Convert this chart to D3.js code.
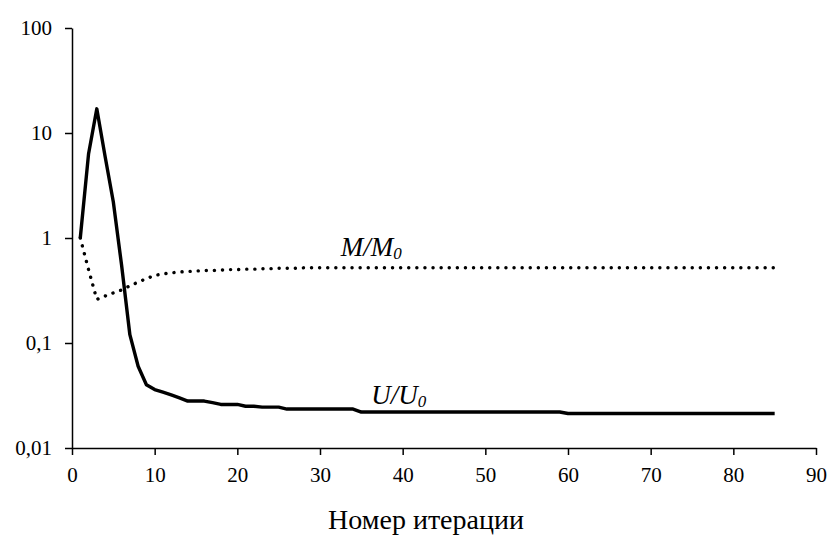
<!DOCTYPE html>
<html>
<head>
<meta charset="utf-8">
<script src="https://cdn.jsdelivr.net/npm/d3@7"></script>
</head>
<body style="margin:0">
<script>
// iteration numbers
var iterations = [1,2,3,4,5,6,7,8,9,10,11,12,13,14,15,16,17,18,19,20,
  21,22,23,24,25,26,27,28,29,30,31,32,33,34,35,36,37,38,39,40,
  41,42,43,44,45,46,47,48,49,50,51,52,53,54,55,56,57,58,59,60,
  61,62,63,64,65,66,67,68,69,70,71,72,73,74,75,76,77,78,79,80,
  81,82,83,84,85];

// U/U0 (solid)
var uValues = [1,6.3,17,6,2.2,0.55,0.12,0.06,0.04,0.036,
  0.034,0.032,0.03,0.028,0.028,0.028,0.027,0.026,0.026,0.026,
  0.025,0.025,0.0245,0.0245,0.0245,0.0235,0.0235,0.0235,0.0235,0.0235,
  0.0235,0.0235,0.0235,0.0235,0.022,0.022,0.022,0.022,0.022,0.022,
  0.022,0.022,0.022,0.022,0.022,0.022,0.022,0.022,0.022,0.022,
  0.022,0.022,0.022,0.022,0.022,0.022,0.022,0.022,0.022,0.0213,
  0.0213,0.0213,0.0213,0.0213,0.0213,0.0213,0.0213,0.0213,0.0213,0.0213,
  0.0213,0.0213,0.0213,0.0213,0.0213,0.0213,0.0213,0.0213,0.0213,0.0213,
  0.0213,0.0213,0.0213,0.0213,0.0213];

// M/M0 (dotted)
var mValues = [1,0.5,0.26,0.28,0.3,0.32,0.35,0.38,0.41,0.44,
  0.455,0.465,0.475,0.48,0.485,0.49,0.49,0.495,0.5,0.5,
  0.505,0.505,0.51,0.51,0.515,0.515,0.515,0.52,0.52,0.52,
  0.52,0.52,0.52,0.52,0.52,0.52,0.52,0.52,0.52,0.52,
  0.52,0.52,0.52,0.52,0.52,0.52,0.52,0.52,0.52,0.52,
  0.52,0.52,0.52,0.52,0.52,0.52,0.52,0.52,0.52,0.52,
  0.52,0.52,0.52,0.52,0.52,0.52,0.52,0.52,0.52,0.52,
  0.52,0.52,0.52,0.52,0.52,0.52,0.52,0.52,0.52,0.52,
  0.52,0.52,0.52,0.52,0.52];

var xTicks = [0,10,20,30,40,50,60,70,80,90];
var yTicks = [0.01,0.1,1,10,100];
var yTickLabels = ["0,01","0,1","1","10","100"];

var serif = "Liberation Serif";

// set the dimensions
var width = 831, height = 538;
var margin = {top: 28, right: 15, bottom: 90, left: 72};

var x = d3.scaleLinear()
    .domain([0, 90])
    .range([margin.left, width - margin.right]);
var y = d3.scaleLog()
    .domain([0.01, 100])
    .range([height - margin.bottom, margin.top]);

var svg = d3.select("body").append("svg")
    .attr("width", width)
    .attr("height", height)
    .style("display", "block");

// lines
var line = d3.line()
    .x(function(d) { return x(d[0]); })
    .y(function(d) { return y(d[1]); });

svg.append("path")
    .datum(iterations.map(function(t, i) { return [t, mValues[i]]; }))
    .attr("fill", "none")
    .attr("stroke", "#000")
    .attr("stroke-width", 3.4)
    .attr("stroke-linecap", "round")
    .attr("stroke-dasharray", "0.1 8")
    .attr("d", line);

svg.append("path")
    .datum(iterations.map(function(t, i) { return [t, uValues[i]]; }))
    .attr("fill", "none")
    .attr("stroke", "#000")
    .attr("stroke-width", 3.4)
    .attr("stroke-linejoin", "round")
    .attr("d", line);

// x axis
var xAxis = svg.append("g")
    .attr("transform", "translate(0," + (height - margin.bottom) + ")")
    .call(d3.axisBottom(x).tickValues(xTicks).tickSize(7).tickPadding(12).tickSizeOuter(0));

// y axis
var yAxis = svg.append("g")
    .attr("transform", "translate(" + margin.left + ",0)")
    .call(d3.axisLeft(y).tickValues(yTicks)
      .tickFormat(function(d, i) { return yTickLabels[i]; })
      .tickSize(7).tickPadding(13).tickSizeOuter(0));

[xAxis, yAxis].forEach(function(g) {
  g.selectAll("path, line").attr("stroke", "#000").attr("stroke-width", 1.5);
  g.selectAll("text")
    .attr("fill", "#000")
    .style("font-family", serif)
    .style("font-size", "21px");
});

// series labels
function seriesLabel(px, py, letter) {
  var t = svg.append("text")
      .attr("x", px)
      .attr("y", py)
      .style("font-family", serif)
      .style("font-size", "27px")
      .style("font-style", "italic");
  t.append("tspan").text(letter + "/" + letter);
  t.append("tspan")
      .attr("dy", 3)
      .style("font-size", "17px")
      .text("0");
}
seriesLabel(x(32.5), y(0.68), "M");
seriesLabel(x(36.2), y(0.0265), "U");

// x axis title
svg.append("text")
    .attr("x", 426)
    .attr("y", 529)
    .attr("text-anchor", "middle")
    .style("font-family", serif)
    .style("font-size", "28px")
    .text("Номер итерации");
</script>
</body>
</html>
